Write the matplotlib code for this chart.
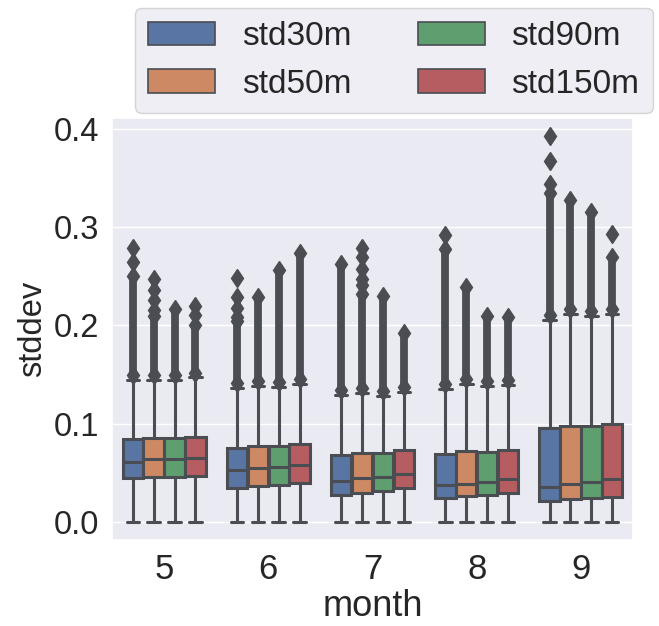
import numpy as np
import matplotlib
matplotlib.use("Agg")
import matplotlib.pyplot as plt
import matplotlib.patches as mpatches
import seaborn as sns

sns.set_theme(style="darkgrid")
plt.rcParams["font.family"] = ["Liberation Sans", "DejaVu Sans"]

months = [5, 6, 7, 8, 9]
series = ["std30m", "std50m", "std90m", "std150m"]

# box stats, one row per month, one column per series
q1 = [[0.044, 0.046, 0.046, 0.0466],
      [0.034, 0.0367, 0.0374, 0.039],
      [0.0272, 0.0296, 0.0316, 0.034],
      [0.0245, 0.0262, 0.0269, 0.029],
      [0.0214, 0.0228, 0.0241, 0.0255]]
med = [[0.061, 0.0636, 0.0636, 0.0646],
       [0.0527, 0.0544, 0.0555, 0.0578],
       [0.0418, 0.0442, 0.0459, 0.0483],
       [0.0374, 0.0384, 0.0408, 0.0435],
       [0.0357, 0.0381, 0.0408, 0.0432]]
q3 = [[0.084, 0.085, 0.085, 0.0867],
      [0.0748, 0.0772, 0.077, 0.0792],
      [0.068, 0.0703, 0.070, 0.0731],
      [0.0687, 0.072, 0.0714, 0.0731],
      [0.0952, 0.0979, 0.0976, 0.0996]]
whis_lo = [[0.0] * 4] * 5
whis_hi = [[0.144, 0.144, 0.144, 0.147],
           [0.136, 0.138, 0.137, 0.140],
           [0.129, 0.131, 0.128, 0.132],
           [0.135, 0.140, 0.138, 0.139],
           [0.206, 0.212, 0.210, 0.212]]
# lowest and highest outlier of the solid run above each whisker
dense_bot = [[0.149, 0.149, 0.149, 0.152],
             [0.141, 0.143, 0.142, 0.145],
             [0.134, 0.136, 0.133, 0.137],
             [0.140, 0.145, 0.143, 0.144],
             [0.211, 0.217, 0.215, 0.217]]
dense_top = [[0.250, 0.210, 0.217, 0.200],
             [0.205, 0.229, 0.257, 0.274],
             [0.263, 0.232, 0.230, 0.192],
             [0.278, 0.239, 0.210, 0.209],
             [0.335, 0.328, 0.316, 0.270]]
# separate outliers above the solid run
sparse = [[[0.279, 0.265], [0.247, 0.236, 0.226, 0.216], [], [0.2195, 0.211]],
          [[0.248, 0.229, 0.218, 0.209], [], [], []],
          [[], [0.279, 0.270, 0.2575, 0.247, 0.241], [], []],
          [[0.292], [], [], []],
          [[0.393, 0.368, 0.344], [], [], [0.293]]]

base = ["#4C72B0", "#DD8452", "#55A868", "#C44E52"]
colors = [sns.desaturate(c, 0.75) for c in base]
gray = "#4a4d51"

fig = plt.figure(figsize=(6.59, 6.26), dpi=100)
ax = fig.add_axes([0.170, 0.1374, 0.7905, 0.6741])

width = 0.2
offsets = [-0.3, -0.1, 0.1, 0.3]
for i, m in enumerate(months):
    for j in range(4):
        pos = i + offsets[j]
        fl = sparse[i][j] + [dense_top[i][j], dense_bot[i][j]]
        stats = [dict(med=med[i][j], q1=q1[i][j], q3=q3[i][j],
                      whislo=whis_lo[i][j], whishi=whis_hi[i][j],
                      fliers=np.array(fl))]
        ax.vlines(pos, dense_bot[i][j], dense_top[i][j], color=gray,
                  linewidth=5.6, zorder=1.5)
        ax.bxp(stats, positions=[pos], widths=width * 0.98, capwidths=0.12,
               patch_artist=True, manage_ticks=False,
               boxprops=dict(facecolor=colors[j], edgecolor=gray, linewidth=2.2),
               medianprops=dict(color=gray, linewidth=2.2),
               whiskerprops=dict(color=gray, linewidth=2.2),
               capprops=dict(color=gray, linewidth=2.2),
               flierprops=dict(marker="d", markersize=9.5, markerfacecolor=gray,
                               markeredgecolor=gray))

ax.grid(axis="x", visible=False)
ax.set_xlim(-0.5, 4.5)
ax.set_ylim(-0.0187, 0.4115)
ax.set_xticks(range(len(months)))
ax.set_xticklabels([str(m) for m in months])
ax.set_yticks([0.0, 0.1, 0.2, 0.3, 0.4])
ax.set_yticklabels(["0.0", "0.1", "0.2", "0.3", "0.4"])
ax.tick_params(axis="y", labelsize=23.5)
ax.tick_params(axis="x", labelsize=25)
ax.set_xlabel("month", fontsize=26, labelpad=2)
ax.set_ylabel("stddev", fontsize=23.5)

handles = [mpatches.Patch(facecolor=c, edgecolor=gray, linewidth=1.2) for c in colors]
fig.legend(handles, series, ncol=2, fontsize=24, loc="lower left",
           bbox_to_anchor=(135 / 659, (626 - 113) / 626),
           bbox_transform=fig.transFigure, borderaxespad=0, frameon=True)

fig.savefig("out.png", dpi=100)
